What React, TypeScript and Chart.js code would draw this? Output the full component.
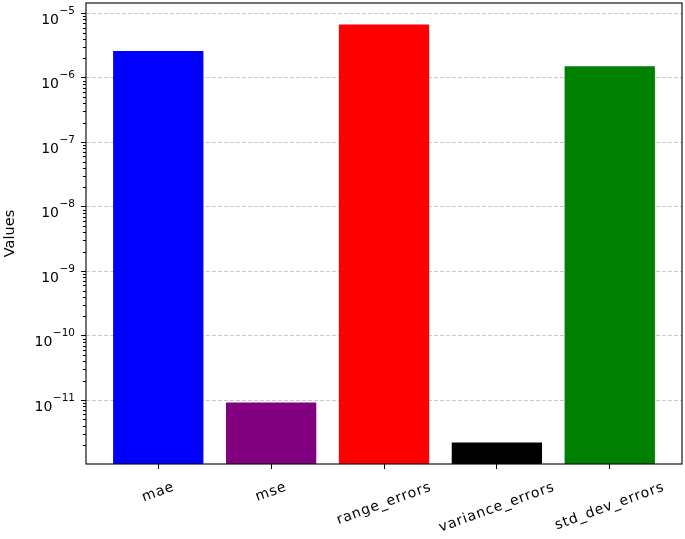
import React, { useEffect, useRef } from 'react';
import { Chart, registerables } from 'chart.js';

Chart.register(...registerables);

const categories = ['mae', 'mse', 'range_errors', 'variance_errors', 'std_dev_errors'];
const values = [2.6e-6, 9.2e-12, 6.7e-6, 2.2e-12, 1.5e-6];
const barColors = ['#0000ff', '#800080', '#ff0000', '#000000', '#008000'];
const majorExponents = [-11, -10, -9, -8, -7, -6, -5];
const tickBase = '10';
const yAxisTitle = 'Values';
const yMin = 1.02e-12;
const yMax = 1.44e-5;
const xMin = -0.64;
const xMax = 4.64;

const FONT = "'DejaVu Sans', sans-serif";

const expText = (e: number) => (e < 0 ? '\u2212' + String(-e) : String(e));

const framePlugin = {
  id: 'mplFrame',
  afterDraw(chart: any) {
    const { ctx, chartArea: a, scales } = chart;
    const ys = scales.y;
    const xs = scales.x;
    ctx.save();
    ctx.strokeStyle = '#000';
    ctx.lineWidth = 1;
    // minor ticks
    ys.ticks.forEach((t: any) => {
      if (!t.major) {
        const y = Math.round(ys.getPixelForValue(t.value)) + 0.5;
        ctx.beginPath();
        ctx.moveTo(a.left - 3, y);
        ctx.lineTo(a.left, y);
        ctx.stroke();
      }
    });
    // frame
    ctx.lineWidth = 1.1;
    ctx.strokeRect(a.left, a.top, a.right - a.left, a.bottom - a.top);
    // y tick labels 10^e
    ctx.fillStyle = '#000';
    ctx.textAlign = 'right';
    ctx.textBaseline = 'alphabetic';
    const rightX = a.left - 11;
    majorExponents.forEach((e) => {
      const v = Math.pow(10, e);
      if (v < yMin || v > yMax) return;
      const y = ys.getPixelForValue(v);
      const ex = expText(e);
      ctx.font = `10.5px ${FONT}`;
      const ew = ctx.measureText(ex).width;
      ctx.fillText(ex, rightX, y + 0.5);
      ctx.font = `14px ${FONT}`;
      ctx.fillText(tickBase, rightX - ew - 0.5, y + 10.5);
    });
    // x labels, rotated and centred on ticks
    ctx.font = `14px ${FONT}`;
    try {
      (ctx as any).letterSpacing = '0.9px';
    } catch (err) {}
    ctx.textAlign = 'center';
    ctx.textBaseline = 'middle';
    const ang = (20 * Math.PI) / 180;
    const h = 16.3;
    categories.forEach((c, i) => {
      const x = xs.getPixelForValue(i);
      const w = ctx.measureText(c).width;
      const H = w * Math.sin(ang) + h * Math.cos(ang);
      const cy = a.bottom + 15 + H / 2;
      ctx.save();
      ctx.translate(x, cy);
      ctx.rotate(-ang);
      ctx.fillText(c, 0, 0);
      ctx.restore();
    });
    try {
      (ctx as any).letterSpacing = '0px';
    } catch (err) {}
    ctx.restore();
  },
};

export default function App() {
  const ref = useRef<HTMLCanvasElement>(null);
  useEffect(() => {
    if (!ref.current) return;
    const chart = new Chart(ref.current, {
      type: 'bar',
      data: {
        datasets: [
          {
            data: values.map((v, i) => ({ x: i, y: v })),
            backgroundColor: barColors,
            borderWidth: 0,
            barPercentage: 0.8,
            categoryPercentage: 1,
          },
        ],
      },
      options: {
        animation: false,
        responsive: false,
        layout: { padding: { left: 0, top: 3, right: 3, bottom: 0 } },
        plugins: { legend: { display: false }, tooltip: { enabled: false } },
        scales: {
          x: {
            type: 'linear',
            min: xMin,
            max: xMax,
            offset: false,
            afterBuildTicks: (scale: any) => {
              scale.ticks = categories.map((_, i) => ({ value: i }));
            },
            afterFit: (scale: any) => {
              scale.height = 75;
              scale.paddingLeft = 0;
              scale.paddingRight = 0;
            },
            ticks: {
              callback: () => '',
              color: 'transparent',
              maxRotation: 0,
              autoSkip: false,
            },
            grid: {
              drawOnChartArea: false,
              drawTicks: true,
              tickLength: 5,
              tickColor: '#000',
              tickWidth: 1,
              offset: false,
            },
            border: { display: false },
          },
          y: {
            type: 'logarithmic',
            min: yMin,
            max: yMax,
            z: 1,
            afterBuildTicks: (scale: any) => {
              const t: any[] = [];
              for (let e = -13; e <= -4; e++) {
                for (let m = 1; m <= 9; m++) {
                  const v = m * Math.pow(10, e);
                  if (v >= yMin && v <= yMax) t.push({ value: v, major: m === 1 });
                }
              }
              scale.ticks = t;
            },
            afterFit: (scale: any) => {
              scale.width = 86;
              scale.paddingTop = 0;
              scale.paddingBottom = 0;
            },
            ticks: {
              autoSkip: false,
              color: 'transparent',
              font: { family: FONT, size: 14 },
              padding: 6,
              callback: () => '',
            },
            grid: {
              color: (ctx: any) => (ctx.tick && ctx.tick.major ? 'rgba(176,176,176,0.7)' : 'transparent'),
              tickColor: (ctx: any) => (ctx.tick && ctx.tick.major ? '#000' : 'transparent'),
              lineWidth: 1,
              tickWidth: 1,
              tickLength: 5,
              drawTicks: true,
            },
            border: { display: false, dash: [4, 2] },
            title: {
              display: true,
              text: yAxisTitle,
              color: '#000',
              font: { family: FONT, size: 14.5 },
              padding: { top: 2, bottom: 0 },
            },
          },
        },
      },
      plugins: [framePlugin],
    } as any);
    return () => chart.destroy();
  }, []);
  return (
    <div style={{ position: 'fixed', left: 0, top: 0, width: 685, height: 539, background: '#fff' }}>
      <canvas ref={ref} width={685} height={539} style={{ display: 'block' }} />
    </div>
  );
}
